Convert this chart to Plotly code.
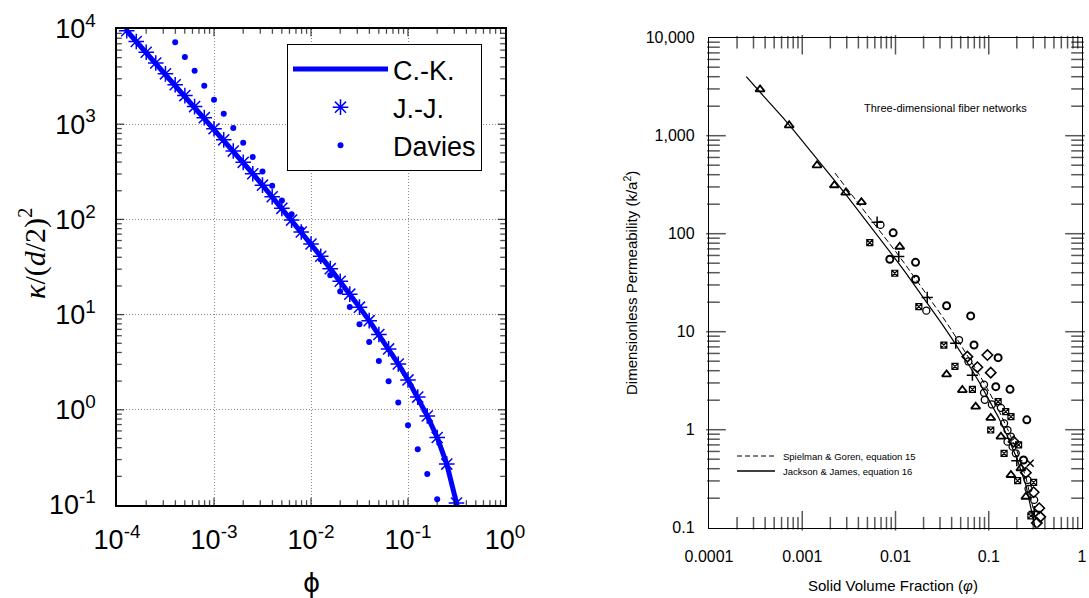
import math
import plotly.graph_objects as go

# ---------------- left panel data ----------------
phi_ck = [1.26e-4, 1.58e-4, 2.0e-4, 2.51e-4, 3.16e-4, 3.98e-4, 5.01e-4, 6.31e-4, 7.94e-4,
          1.0e-3, 1.26e-3, 1.58e-3, 2.0e-3, 2.51e-3, 3.16e-3, 3.98e-3, 5.01e-3, 6.31e-3, 7.94e-3,
          1.0e-2, 1.26e-2, 1.58e-2, 2.0e-2, 2.51e-2, 3.16e-2, 3.98e-2, 5.01e-2, 6.31e-2, 7.94e-2,
          0.1, 0.126, 0.158, 0.2, 0.251, 0.316, 0.33]
kappa_ck = [9590, 7400, 5705, 4394, 3381, 2599, 1996, 1530, 1172,
            896.5, 684.7, 522.1, 397.4, 301.9, 228.9, 173.1, 130.6, 98.3, 73.7,
            55.1, 41.0, 30.4, 22.4, 16.4, 11.97, 8.64, 6.17, 4.36, 3.03,
            2.06, 1.36, 0.862, 0.512, 0.269, 0.105, 0.081]

phi_jj = [1.26e-4, 1.58e-4, 2.0e-4, 2.51e-4, 3.16e-4, 3.98e-4, 5.01e-4, 6.31e-4, 7.94e-4,
          1.0e-3, 1.26e-3, 1.58e-3, 2.0e-3, 2.51e-3, 3.16e-3, 3.98e-3, 5.01e-3, 6.31e-3, 7.94e-3,
          1.0e-2, 1.26e-2, 1.58e-2, 2.0e-2, 2.51e-2, 3.16e-2, 3.98e-2, 5.01e-2, 6.31e-2, 7.94e-2,
          0.1, 0.126, 0.158, 0.2, 0.251, 0.316]
kappa_jj = [9590, 7400, 5705, 4394, 3381, 2599, 1996, 1530, 1172,
            896.5, 684.7, 522.1, 397.4, 301.9, 228.9, 173.1, 130.6, 98.3, 73.7,
            55.1, 41.0, 30.4, 22.4, 16.4, 11.97, 8.64, 6.17, 4.36, 3.03,
            2.06, 1.36, 0.862, 0.512, 0.269, 0.105]

phi_dav = [3.98e-4, 5.01e-4, 6.31e-4, 7.94e-4, 1.0e-3, 1.26e-3, 1.58e-3, 2.0e-3, 2.51e-3,
           3.16e-3, 3.98e-3, 5.01e-3, 6.31e-3, 7.94e-3, 1.0e-2, 1.26e-2, 1.58e-2, 2.0e-2,
           2.51e-2, 3.16e-2, 3.98e-2, 5.01e-2, 6.31e-2, 7.94e-2, 0.1, 0.126, 0.158, 0.2]
kappa_dav = [7244, 5080, 3650, 2540, 1807, 1288, 912, 640, 452,
             319, 226, 158, 113, 78.9, 54.8, 37.8, 25.9, 17.5,
             12.0, 7.9, 5.15, 3.25, 1.99, 1.19, 0.69, 0.386, 0.212, 0.115]

left_tickvals_x = [1e-4, 1e-3, 1e-2, 1e-1, 1]
left_ticktext_x = ["10<sup>-4</sup>", "10<sup>-3</sup>", "10<sup>-2</sup>", "10<sup>-1</sup>", "10<sup>0</sup>"]
left_tickvals_y = [1e-1, 1, 10, 100, 1000, 10000]
left_ticktext_y = ["10<sup>-1</sup>", "10<sup>0</sup>", "10<sup>1</sup>", "10<sup>2</sup>", "10<sup>3</sup>", "10<sup>4</sup>"]

# ---------------- right panel data ----------------
phi_sg = [2.24e-3, 2.51e-3, 3.16e-3, 3.98e-3, 5.01e-3, 6.31e-3, 7.94e-3, 1.0e-2, 1.26e-2,
          1.58e-2, 2.0e-2, 2.51e-2, 3.16e-2, 3.98e-2, 5.01e-2, 6.31e-2, 7.94e-2, 0.1,
          0.126, 0.158, 0.2, 0.251, 0.316]
k_sg = [416, 362, 275, 208, 157, 118, 88.4, 66.1, 49.2,
        36.5, 26.9, 19.7, 14.4, 10.4, 7.40, 5.23, 3.63, 2.47,
        1.63, 1.03, 0.614, 0.323, 0.126]

phi_jjeq = [2.51e-4, 3.16e-4, 3.98e-4, 5.01e-4, 6.31e-4, 7.94e-4, 1.0e-3, 1.26e-3, 1.58e-3,
            2.0e-3, 2.51e-3, 3.16e-3, 3.98e-3, 5.01e-3, 6.31e-3, 7.94e-3, 1.0e-2, 1.26e-2,
            1.58e-2, 2.0e-2, 2.51e-2, 3.16e-2, 3.98e-2, 5.01e-2, 6.31e-2, 7.94e-2, 0.1,
            0.126, 0.158, 0.2, 0.251, 0.316, 0.33]
k_jjeq = [4000, 3150, 2470, 1930, 1500, 1160, 890, 684.7, 522.1,
          397.4, 301.9, 228.9, 173.1, 130.6, 98.3, 73.7, 55.1, 41.0,
          30.4, 22.4, 16.4, 11.97, 8.64, 6.17, 4.36, 3.03, 2.06,
          1.36, 0.862, 0.512, 0.269, 0.105, 0.081]

tri_phi = [3.53e-4, 7.24e-4, 1.44e-3, 2.21e-3, 2.92e-3, 4.31e-3, 0.0111, 0.0353, 0.0521,
           0.0724, 0.105, 0.135, 0.173, 0.250, 0.221]
tri_k = [2970, 1277, 499, 312, 262, 210, 73.6, 3.67, 2.54, 1.72, 1.32, 0.849, 0.345, 0.207, 0.404]

half_phi = [9.44e-3, 8.69e-3, 0.0164, 0.0164, 0.0353, 0.064, 0.0695, 0.126, 0.119, 0.169, 0.256, 0.236]
half_k = [102, 54.8, 51.0, 34.3, 18.4, 14.5, 7.31, 5.43, 2.75, 2.58, 1.26, 0.491]

circ_phi = [6.9e-3, 0.0214, 0.048, 0.0605, 0.089, 0.089, 0.0906, 0.108, 0.135, 0.146, 0.159,
            0.173, 0.159, 0.180, 0.195, 0.261, 0.267, 0.307]
circ_k = [123, 16.4, 8.22, 4.97, 2.88, 2.38, 2.02, 1.81, 1.67, 1.16, 0.99,
          0.849, 0.755, 0.671, 0.574, 0.307, 0.249, 0.192]

sq_phi = [5.30e-3, 9.82e-3, 0.0178, 0.033, 0.0434, 0.0668, 0.105, 0.146, 0.204, 0.283, 0.303,
          0.126, 0.152, 0.173, 0.209]
sq_k = [80.9, 39.5, 18.0, 7.31, 4.42, 2.58, 0.993, 0.574, 0.302, 0.132, 0.290, 1.93, 1.53, 1.36, 0.701]

dia_phi = [0.0968, 0.105, 0.185, 0.250, 0.303, 0.348, 0.356, 0.328, 0.059, 0.0755]
dia_k = [5.78, 3.82, 0.755, 0.364, 0.230, 0.158, 0.129, 0.112, 5.56, 4.34]

plus_phi = [6.35e-3, 0.01083, 0.0219, 0.0442, 0.0668, 0.200, 0.307]
plus_k = [131, 58.5, 22.4, 7.62, 3.60, 0.483, 0.146]

x_phi = [0.278]
x_k = [0.455]

right_tickvals_x = [1e-4, 1e-3, 1e-2, 1e-1, 1]
right_ticktext_x = ["0.0001", "0.001", "0.01", "0.1", "1"]
right_tickvals_y = [0.1, 1, 10, 100, 1000, 10000]
right_ticktext_y = ["0.1", "1", "10", "100", "1,000", "10,000"]

BLUE = "#0000FF"
W, H = 1089, 598
LFONT = "Liberation Sans, Arial, sans-serif"

fig = go.Figure()

fig.add_trace(go.Scatter(x=phi_ck, y=kappa_ck, mode="lines", name="C.-K.",
                         line=dict(color=BLUE, width=5), xaxis="x", yaxis="y"))
fig.add_trace(go.Scatter(x=phi_jj, y=kappa_jj, mode="markers", name="J.-J.",
                         marker=dict(symbol="asterisk-open", size=13, color=BLUE,
                                     line=dict(color=BLUE, width=1.5)), xaxis="x", yaxis="y"))
fig.add_trace(go.Scatter(x=phi_dav, y=kappa_dav, mode="markers", name="Davies",
                         marker=dict(symbol="circle", size=6, color=BLUE), xaxis="x", yaxis="y"))

fig.add_trace(go.Scatter(x=phi_sg, y=k_sg, mode="lines", showlegend=False,
                         line=dict(color="black", width=1, dash="6px,3px"),
                         xaxis="x2", yaxis="y2"))
fig.add_trace(go.Scatter(x=phi_jjeq, y=k_jjeq, mode="lines", showlegend=False,
                         line=dict(color="black", width=1.2),
                         xaxis="x2", yaxis="y2"))

def mk(xv, yv, sym, size=7, lw=1.4):
    fig.add_trace(go.Scatter(x=xv, y=yv, mode="markers", showlegend=False,
                             marker=dict(symbol=sym, size=size, color="black",
                                         line=dict(color="black", width=lw)),
                             xaxis="x2", yaxis="y2"))

mk(tri_phi, tri_k, "triangle-up-open", 8, 1.8)
mk(half_phi, half_k, "circle-open", 7, 2.0)
mk(circ_phi, circ_k, "circle-open", 7, 1.3)
mk(sq_phi, sq_k, "square-x-open", 6, 1.2)
mk(dia_phi, dia_k, "diamond-open", 8, 1.6)
mk(plus_phi, plus_k, "cross-thin-open", 8, 1.5)
mk(x_phi, x_k, "x-thin-open", 7, 1.5)

ldx = [117 / W, 505 / W]
ldy = [1 - 505 / H, 1 - 29 / H]
rdx = [709 / W, 1082 / W]
rdy = [1 - 527.7 / H, 1 - 37.7 / H]


# tick marks: short line markers sitting just inside each axis edge
def add_ticks(xa, ya, xlo, xhi, ylo, yhi, wpx, hpx, major, minor, color, width):
    def seg_list(lo, hi):
        out = []
        for e in range(int(lo), int(hi)):
            for m in range(1, 10):
                v = math.log10(m) + e
                if lo < v < hi:
                    out.append((v, major if m == 1 else minor))
        return out
    xs, ys, ss = [], [], []
    for v, L in seg_list(xlo, xhi):
        dl = L / 2 / hpx * (yhi - ylo)
        xs += [10 ** v, 10 ** v]
        ys += [10 ** (ylo + dl), 10 ** (yhi - dl)]
        ss += [L, L]
    fig.add_trace(go.Scatter(x=xs, y=ys, mode="markers", showlegend=False, hoverinfo="skip",
                             cliponaxis=False,
                             marker=dict(symbol="line-ns-open", size=ss, color=color,
                                         line=dict(color=color, width=width)),
                             xaxis=xa, yaxis=ya))
    xs, ys, ss = [], [], []
    for v, L in seg_list(ylo, yhi):
        dl = L / 2 / wpx * (xhi - xlo)
        xs += [10 ** (xlo + dl), 10 ** (xhi - dl)]
        ys += [10 ** v, 10 ** v]
        ss += [L, L]
    fig.add_trace(go.Scatter(x=xs, y=ys, mode="markers", showlegend=False, hoverinfo="skip",
                             cliponaxis=False,
                             marker=dict(symbol="line-ew-open", size=ss, color=color,
                                         line=dict(color=color, width=width)),
                             xaxis=xa, yaxis=ya))

add_ticks("x", "y", -4, 0, -1, 4, 388, 476, 6, 4, "black", 1.3)
add_ticks("x2", "y2", -4, 0, -1, 4, 373, 490, 14, 9, "#111111", 1.5)


def axis(rng, dom, anchor, tv, tt, size, standoff, grid):
    d = dict(type="log", range=rng, domain=dom, anchor=anchor, tickmode="array",
             tickvals=tv, ticktext=tt, ticks="", showline=True, mirror=True,
             linecolor="black", linewidth=1.5 if grid else 1.4,
             showgrid=grid, zeroline=False, automargin=False,
             tickfont=dict(family=LFONT, size=size, color="black"),
             ticklabelstandoff=standoff)
    if grid:
        d.update(gridcolor="#8a8a8a", griddash="1px,2px", gridwidth=1)
    return d

xa = axis([-4, 0], ldx, "y", left_tickvals_x, left_ticktext_x, 27, 10, True)
ya = axis([-1, 4], ldy, "x", left_tickvals_y, left_ticktext_y, 27, 14, True)
xa2 = axis([-4, 0], rdx, "y2", right_tickvals_x, right_ticktext_x, 16, 14, False)
ya2 = axis([-1, 4], rdy, "x2", right_tickvals_y, right_ticktext_y, 16, 10, False)

shapes = [
    dict(type="line", xref="paper", yref="paper", x0=737 / W, x1=775 / W,
         y0=1 - 456 / H, y1=1 - 456 / H, line=dict(color="black", width=1, dash="5px,3px")),
    dict(type="line", xref="paper", yref="paper", x0=737 / W, x1=775 / W,
         y0=1 - 471 / H, y1=1 - 471 / H, line=dict(color="black", width=1.3)),
]

def ann(text, x, y, size, family=LFONT, angle=0):
    return dict(text=text, x=x / W, y=1 - y / H, xref="paper", yref="paper", showarrow=False,
                xanchor="center", yanchor="middle", textangle=angle,
                font=dict(family=family, size=size, color="black"))

def ann_left(text, x, y, size):
    return dict(text=text, x=x / W, y=1 - y / H, xref="paper", yref="paper", showarrow=False,
                xanchor="left", yanchor="middle",
                font=dict(family=LFONT, size=size, color="black"))

fig.update_layout(
    width=W, height=H, margin=dict(l=0, r=0, t=0, b=0),
    paper_bgcolor="white", plot_bgcolor="white",
    xaxis=xa, yaxis=ya, xaxis2=xa2, yaxis2=ya2,
    showlegend=True,
    legend=dict(x=287 / W, y=1 - 44 / H, xanchor="left", yanchor="top",
                bordercolor="black", borderwidth=1, bgcolor="white",
                font=dict(family=LFONT, size=27, color="black"), itemwidth=95,
                tracegroupgap=0),
    shapes=shapes,
    annotations=[
        ann("<i>κ</i>/(<i>d</i>/2)<sup>2</sup>", 32, 253, 30, "Liberation Serif, DejaVu Serif, serif", -90),
        ann("ϕ", 311, 583, 26, "DejaVu Sans, sans-serif"),
        ann("Dimensionless Permeability (k/a<sup>2</sup>)", 630, 283, 15, LFONT, -90),
        ann("Solid Volume Fraction (<i>φ</i>)", 893, 585, 15),
        ann("Three-dimensional fiber networks", 945, 108, 11),
        ann_left("Spielman & Goren, equation 15", 781, 456, 9.5),
        ann_left("Jackson & James, equation 16", 781, 471, 9.5),
    ],
)

fig.write_html("out.html")
